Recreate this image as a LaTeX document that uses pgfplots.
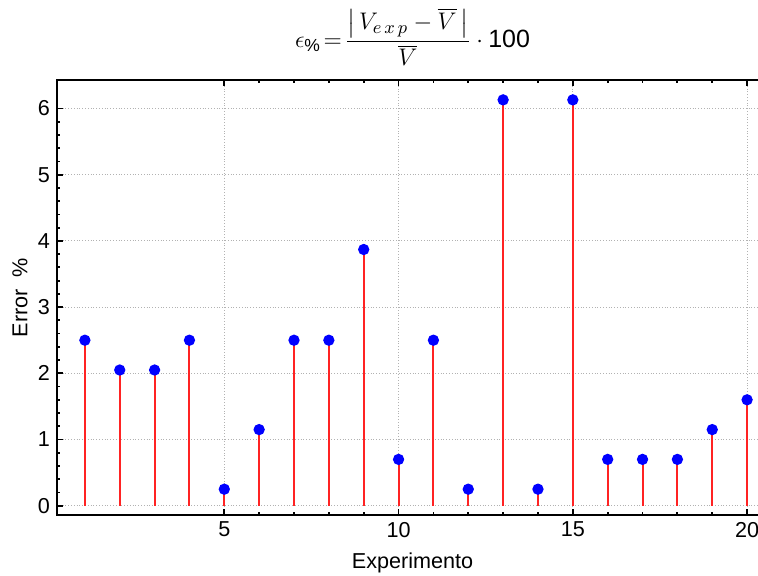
\documentclass[border=0pt]{standalone}
\usepackage{amsmath}
\usepackage{pgfplots}
\pgfplotsset{compat=1.18}
\usepackage{fontspec}
\setmainfont{Liberation Sans}
\definecolor{stemred}{RGB}{255,35,35}
\definecolor{dotblue}{RGB}{0,0,255}

\begin{document}
\begin{tikzpicture}
\begin{axis}[
  scale only axis,
  width=355.5pt, height=217.5pt,
  xmin=0.2, xmax=20.6,
  ymin=-0.14, ymax=6.43,
  xtick={5,10,15,20},
  ytick={0,1,2,3,4,5,6},
  minor x tick num=4,
  minor y tick num=4,
  tick align=inside,
  major tick length=3pt,
  minor tick length=1.6pt,
  tick style={black, line width=0.9pt},
  axis line style={line width=1.2pt},
  grid=major,
  grid style={densely dotted, gray!60, line width=0.5pt},
  tick label style={font=\fontsize{10.8}{12}\selectfont},
  label style={font=\fontsize{10.8}{12}\selectfont},
  /pgf/number format/assume math mode=true,
  xlabel={Experimento},
  ylabel={Error\ \ \%},
  xlabel style={at={(axis description cs:0.5,0)}, anchor=center, yshift=-24pt},
  ylabel style={at={(axis description cs:-0.052,0.5)}, anchor=center},
  title={$\epsilon_{\%}\!=\!\dfrac{\left|\,V_{e\,x\,p}-\overline{V}\,\right|}{\overline{V}}\cdot\mbox{100}$},
  title style={at={(axis description cs:0.5,1)}, anchor=south, yshift=-2.5pt, font=\fontsize{12.5}{14}\selectfont},
]
\addplot[stemred, line width=1pt, ycomb,
  mark=*, mark size=2.3pt, mark options={dotblue, fill=dotblue, draw=dotblue}]
coordinates {
  (1,2.50) (2,2.05) (3,2.05) (4,2.50) (5,0.25)
  (6,1.15) (7,2.50) (8,2.50) (9,3.87) (10,0.70)
  (11,2.50) (12,0.25) (13,6.13) (14,0.25) (15,6.13)
  (16,0.70) (17,0.70) (18,0.70) (19,1.15) (20,1.60)
};
\coordinate (bl) at (rel axis cs:0,0);
\coordinate (tl) at (rel axis cs:0,1);
\end{axis}
\pgfresetboundingbox
\path[use as bounding box] ([shift={(-28.5pt,-30pt)}]bl) rectangle ([shift={(350.5pt,40pt)}]tl);
\end{tikzpicture}
\end{document}
